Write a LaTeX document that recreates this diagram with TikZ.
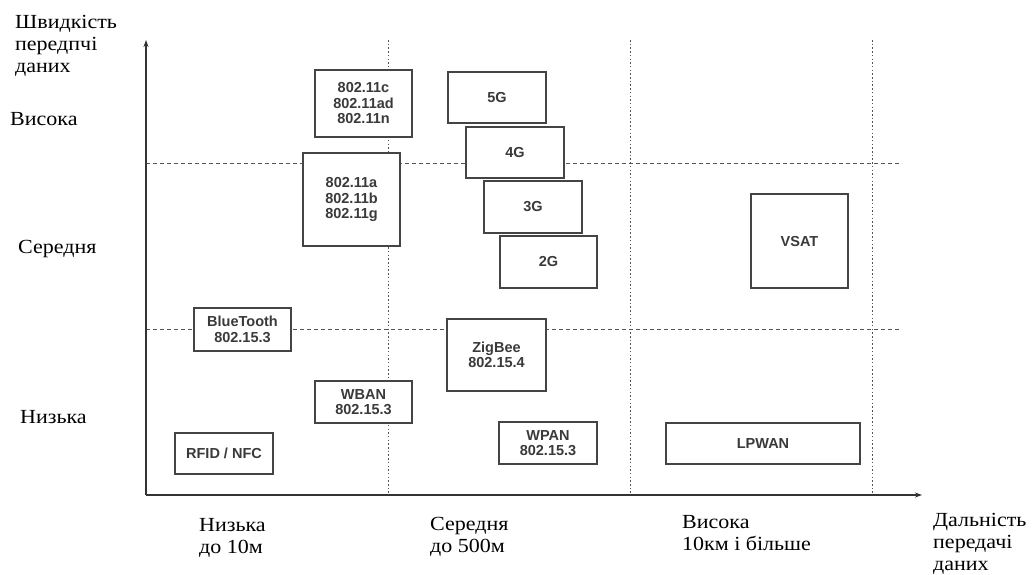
\documentclass[tikz,border=0pt]{standalone}
\usepackage{fontspec}
\setmainfont[FakeStretch=1.1]{Liberation Serif}
\newfontfamily\boxfont{Liberation Sans}
\usetikzlibrary{arrows.meta}
\definecolor{boxline}{HTML}{444444}
\definecolor{boxtext}{HTML}{3A3A3A}
\definecolor{gridc}{HTML}{555555}
\tikzset{
  box/.style={draw=boxline, line width=1.4pt, fill=white, align=center, inner sep=0pt,
    font=\boxfont\bfseries\fontsize{14.5}{15.5}\selectfont, text=boxtext},
  hgrid/.style={draw=gridc, line width=0.9pt, dash pattern=on 4pt off 3pt},
  vgrid/.style={draw=gridc, line width=1pt, dash pattern=on 1.5pt off 2.2pt},
  axis/.style={draw=black!80, line width=1.4pt, -{Stealth[length=7pt,width=5pt]}},
  lab/.style={font=\fontsize{20}{22}\selectfont, align=left, anchor=base west, inner sep=0pt}
}
\begin{document}
\begin{tikzpicture}[x=1pt,y=-1pt]
\useasboundingbox (0,0) rectangle (1032,574);
% coordinates
\coordinate (O) at (146,495);
\coordinate (ytop) at (146,40);
\coordinate (xend) at (922,495);
\coordinate (v1t) at (388,40); \coordinate (v1b) at (388,495);
\coordinate (v2t) at (630,40); \coordinate (v2b) at (630,495);
\coordinate (v3t) at (872,40); \coordinate (v3b) at (872,495);
\coordinate (h1l) at (146,163); \coordinate (h1r) at (900,163);
\coordinate (h2l) at (146,329); \coordinate (h2r) at (900,329);
% grid
\draw[vgrid] (v1t) -- (v1b);
\draw[vgrid] (v2t) -- (v2b);
\draw[vgrid] (v3t) -- (v3b);
\draw[hgrid] (h1l) -- (h1r);
\draw[hgrid] (h2l) -- (h2r);
% axes
\draw[axis] (O) -- (ytop);
\draw[axis] (O) -- (xend);
% boxes
\node[box, minimum width=97pt, minimum height=67pt] (n11c) at (363.5,103.5) {802.11c\\802.11ad\\802.11n};
\node[box, minimum width=97pt, minimum height=93pt] (n11a) at (351.5,199.5) {802.11a\\802.11b\\802.11g};
\node[box, minimum width=98pt, minimum height=51pt] (g5) at (497,97.5) {5G};
\node[box, minimum width=98pt, minimum height=51pt] (g4) at (515,152.5) {4G};
\node[box, minimum width=98pt, minimum height=52pt] (g3) at (533,207) {3G};
\node[box, minimum width=97pt, minimum height=52pt] (g2) at (548.5,262) {2G};
\node[box, minimum width=97pt, minimum height=43pt] (bt) at (242.5,329.5) {BlueTooth\\802.15.3};
\node[box, minimum width=97pt, minimum height=42pt] (wban) at (363.5,402) {WBAN\\802.15.3};
\node[box, minimum width=98pt, minimum height=41pt] (rfid) at (224,453.5) {RFID / NFC};
\node[box, minimum width=99pt, minimum height=72pt] (zig) at (496.5,355) {ZigBee\\802.15.4};
\node[box, minimum width=98pt, minimum height=42pt] (wpan) at (548,443) {WPAN\\802.15.3};
\node[box, minimum width=194pt, minimum height=41pt] (lpwan) at (763,443.5) {LPWAN};
\node[box, minimum width=97pt, minimum height=94pt] (vsat) at (799.5,241) {VSAT};
% labels (base anchor = baseline of last line)
\node[lab] (ylab) at (15,72) {Швидкість\\передпчі\\даних};
\node[lab] (yhigh) at (10,125) {Висока};
\node[lab] (ymid) at (18,253) {Середня};
\node[lab] (ylow) at (20,423) {Низька};
\node[lab] (xlow) at (199,553) {Низька\\до 10м};
\node[lab] (xmid) at (430,552) {Середня\\до 500м};
\node[lab] (xhigh) at (682,550) {Висока\\10км і більше};
\node[lab] (xlab) at (933,570) {Дальність\\передачі\\даних};
\end{tikzpicture}
\end{document}
